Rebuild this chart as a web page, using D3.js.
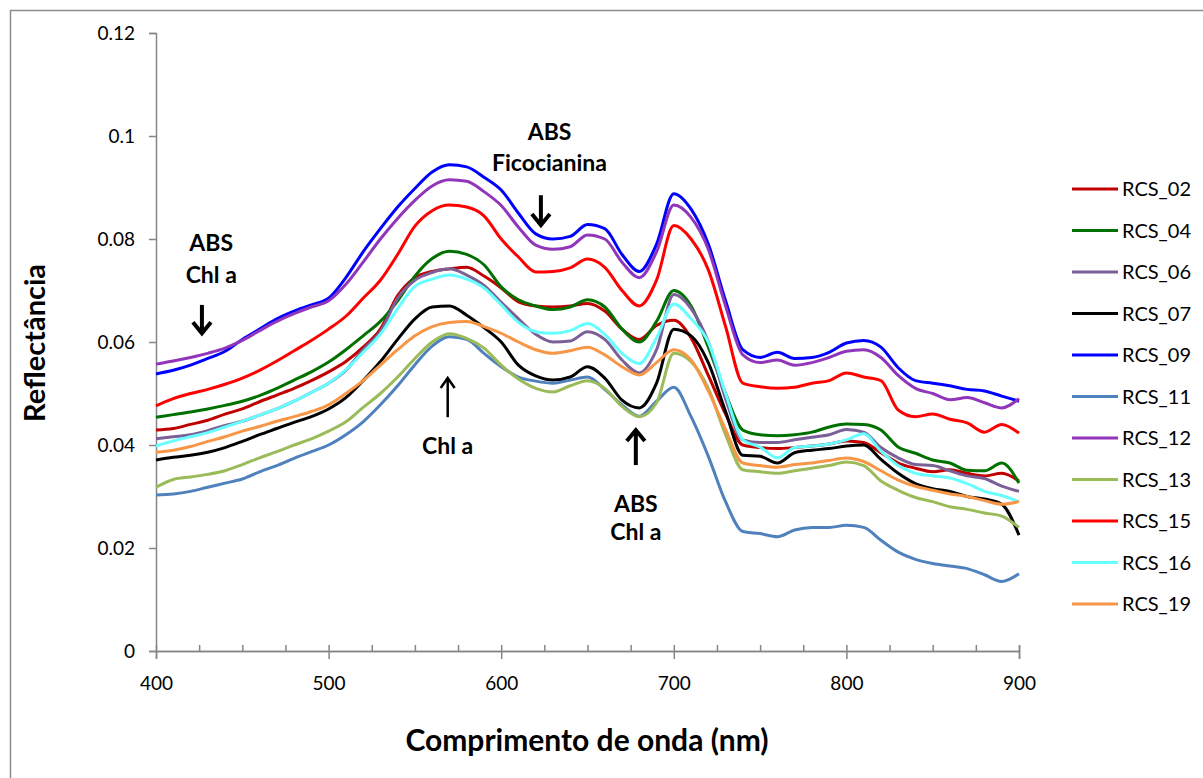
<!DOCTYPE html>
<html>
<head>
<meta charset="utf-8">
<script src="https://cdn.jsdelivr.net/npm/d3@7"></script>
<style>
  body { margin: 0; background: #fff; }
  svg { display: block; font-family: Lato, "Liberation Sans", sans-serif; }
</style>
</head>
<body>
<div id="graph1"></div>
<script>
// wavelengths (nm), one value every 10 nm
let wavelengths = [400,410,420,430,440,450,460,470,480,490,
                   500,510,520,530,540,550,560,570,580,590,
                   600,610,620,630,640,650,660,670,680,690,
                   700,710,720,730,740,750,760,770,780,790,
                   800,810,820,830,840,850,860,870,880,890,900];

let seriesNames = ["RCS_02","RCS_04","RCS_06","RCS_07","RCS_09","RCS_11",
                   "RCS_12","RCS_13","RCS_15","RCS_16","RCS_19"];
let seriesColors = ["#C00000","#007000","#7B5F97","#000000","#0000FF","#4F81BD",
                    "#9136BA","#9BBB59","#FF0000","#66FFFF","#F79646"];

let rcs02 = [.0429,.0432,.0440,.0448,.0460,.0470,.0484,.0497,.0510,.0525,
             .0542,.0562,.0590,.0625,.0690,.0725,.0737,.0742,.0745,.0728,
             .0705,.0678,.0670,.0668,.0670,.0675,.0660,.0625,.0605,.0632,
             .0642,.0608,.0535,.0460,.0400,.0395,.0393,.0395,.0398,.0402,
             .0408,.0405,.0385,.0365,.0355,.0348,.0352,.0345,.0340,.0345,.0330];
let rcs04 = [.0454,.0459,.0464,.0470,.0477,.0485,.0496,.0510,.0526,.0542,
             .0561,.0585,.0612,.0640,.0680,.0728,.0762,.0776,.0770,.0750,
             .0707,.0682,.0670,.0663,.0668,.0682,.0668,.0625,.0600,.0640,
             .0700,.0670,.0590,.0500,.0429,.0420,.0418,.0420,.0425,.0435,
             .0441,.0440,.0429,.0396,.0384,.0371,.0365,.0351,.0350,.0365,.0326];
let rcs06 = [.0412,.0416,.0420,.0428,.0438,.0446,.0458,.0470,.0485,.0502,
             .0520,.0545,.0585,.0620,.0685,.0720,.0735,.0742,.0730,.0710,
             .0677,.0645,.0615,.0600,.0602,.0620,.0605,.0565,.0540,.0585,
             .0692,.0665,.0600,.0490,.0410,.0405,.0405,.0410,.0415,.0420,
             .0430,.0425,.0395,.0375,.0362,.0360,.0350,.0340,.0335,.0320,.0310];
let rcs07 = [.0371,.0376,.0380,.0386,.0395,.0407,.0420,.0432,.0444,.0455,
             .0470,.0492,.0525,.0562,.0605,.0645,.0668,.0670,.0652,.0628,
             .0600,.0555,.0534,.0526,.0532,.0552,.0530,.0487,.0472,.0520,
             .0625,.0612,.0560,.0465,.0380,.0378,.0365,.0385,.0390,.0393,
             .0398,.0400,.0372,.0345,.0325,.0315,.0310,.0300,.0295,.0285,.0225];
let rcs09 = [.0538,.0545,.0555,.0568,.0582,.0605,.0625,.0645,.0660,.0672,
             .0685,.0725,.0775,.0820,.0862,.0898,.0930,.0944,.0940,.0920,
             .0895,.0850,.0810,.0800,.0805,.0828,.0820,.0770,.0737,.0790,
             .0888,.0858,.0790,.0680,.0585,.0570,.0580,.0568,.0570,.0580,
             .0598,.0603,.0590,.0550,.0525,.0520,.0515,.0508,.0505,.0495,.0485];
let rcs11 = [.0303,.0305,.0310,.0318,.0326,.0334,.0348,.0360,.0374,.0387,
             .0400,.0420,.0445,.0478,.0515,.0556,.0592,.0610,.0605,.0578,
             .0552,.0532,.0524,.0520,.0526,.0532,.0508,.0478,.0456,.0485,
             .0512,.0455,.0378,.0290,.0232,.0228,.0222,.0235,.0240,.0240,
             .0244,.0240,.0215,.0192,.0178,.0170,.0165,.0160,.0148,.0135,.0150];
let rcs12 = [.0557,.0563,.0570,.0578,.0588,.0603,.0622,.0640,.0655,.0668,
             .0680,.0712,.0755,.0800,.0840,.0875,.0903,.0915,.0912,.0892,
             .0865,.0823,.0788,.0780,.0785,.0808,.0800,.0755,.0725,.0775,
             .0866,.0842,.0780,.0670,.0575,.0560,.0565,.0555,.0560,.0570,
             .0582,.0585,.0570,.0535,.0510,.0500,.0488,.0492,.0482,.0472,.0490];
let rcs13 = [.0318,.0333,.0338,.0343,.0350,.0362,.0375,.0387,.0400,.0412,
             .0427,.0445,.0473,.0500,.0532,.0568,.0600,.0616,.0607,.0588,
             .0555,.0528,.0510,.0503,.0515,.0525,.0510,.0475,.0455,.0482,
             .0578,.0562,.0510,.0420,.0352,.0348,.0345,.0350,.0355,.0360,
             .0367,.0360,.0330,.0312,.0298,.0290,.0280,.0275,.0268,.0262,.0240];
let rcs15 = [.0476,.0490,.0500,.0508,.0518,.0530,.0545,.0563,.0583,.0603,
             .0625,.0650,.0685,.0720,.0770,.0825,.0855,.0866,.0862,.0845,
             .0800,.0765,.0736,.0737,.0744,.0761,.0745,.0700,.0670,.0720,
             .0826,.0800,.0740,.0630,.0520,.0513,.0510,.0512,.0520,.0525,
             .0540,.0532,.0525,.0468,.0455,.0460,.0450,.0443,.0425,.0440,.0423];
let rcs16 = [.0398,.0408,.0416,.0424,.0435,.0446,.0458,.0470,.0485,.0502,
             .0520,.0546,.0580,.0615,.0665,.0708,.0722,.0730,.0722,.0705,
             .0672,.0638,.0620,.0617,.0622,.0636,.0615,.0578,.0558,.0608,
             .0674,.0645,.0600,.0500,.0410,.0396,.0375,.0395,.0398,.0402,
             .0410,.0422,.0388,.0360,.0345,.0340,.0336,.0325,.0310,.0302,.0290];
let rcs19 = [.0386,.0390,.0397,.0407,.0416,.0427,.0436,.0446,.0455,.0465,
             .0478,.0500,.0525,.0555,.0585,.0612,.0630,.0638,.0640,.0630,
             .0617,.0600,.0585,.0578,.0583,.0590,.0575,.0552,.0536,.0560,
             .0585,.0565,.0505,.0430,.0365,.0360,.0357,.0362,.0365,.0370,
             .0375,.0368,.0350,.0332,.0320,.0312,.0305,.0300,.0292,.0285,.0290];

let seriesValues = [rcs02, rcs04, rcs06, rcs07, rcs09, rcs11,
                    rcs12, rcs13, rcs15, rcs16, rcs19];

let xTicks = [400, 500, 600, 700, 800, 900];
let yTicks = [0, 0.02, 0.04, 0.06, 0.08, 0.1, 0.12];
let yTickLabels = ["0", "0.02", "0.04", "0.06", "0.08", "0.1", "0.12"];

// annotation labels: [nm, reflectance] anchors
let notes = [
  {lines: ["ABS", "Chl a"], x: 432, y: [0.0777, 0.0714]},
  {lines: ["ABS", "Ficocianina"], x: 628, y: [0.0992, 0.0932]},
  {lines: ["Chl  a"], x: 569, y: [0.0383]},
  {lines: ["ABS", "Chl a"], x: 678, y: [0.0270, 0.0216]}
];
let arrows = [
  {x: 426.6, y1: 0.0672, y2: 0.0617, dir: "down", w: 4},
  {x: 623, y1: 0.0885, y2: 0.0827, dir: "down", w: 4},
  {x: 569, y1: 0.0454, y2: 0.0530, dir: "up", w: 2.5},
  {x: 678, y1: 0.0361, y2: 0.0429, dir: "up", w: 4}
];

let width = 1203,
    height = 778;

let svg = d3.select("#graph1")
    .append("svg")
    .attr("width", width)
    .attr("height", height);

// outer chart frame
svg.append("rect")
    .attr("x", 10.5).attr("y", 10.5)
    .attr("width", 1210).attr("height", 790)
    .attr("fill", "none")
    .attr("stroke", "#8c8c8c")
    .attr("stroke-width", 1.5);

let x = d3.scaleLinear().domain([400, 900]).range([156, 1019]);
let y = d3.scaleLinear().domain([0, 0.12]).range([651, 33]);

// y axis
let yAxis = svg.append("g")
    .attr("transform", "translate(156,0)")
    .call(d3.axisLeft(y).tickValues(yTicks).tickSize(7).tickPadding(14)
        .tickFormat((d, i) => yTickLabels[i]));

// x axis: major ticks cross the line, minor ones point inward
let xAxis = svg.append("g")
    .attr("transform", "translate(0,651)")
    .call(d3.axisBottom(x).tickValues(xTicks).tickSize(8).tickPadding(18)
        .tickFormat(d3.format("d")));
let xMinor = svg.append("g")
    .attr("transform", "translate(0,651)")
    .call(d3.axisTop(x).tickValues(d3.range(425, 901, 25)).tickSize(6).tickFormat(""));

[yAxis, xAxis, xMinor].forEach(function(g) {
  g.select(".domain").attr("stroke", "#868686").attr("stroke-width", 1.5);
  g.selectAll(".tick line").attr("stroke", "#868686").attr("stroke-width", 1.5);
  g.selectAll("text").attr("fill", "#000").style("font-size", "19px")
      .style("font-family", "Lato, 'Liberation Sans', sans-serif");
});

// axis titles
svg.append("text")
    .attr("x", 587).attr("y", 751)
    .style("text-anchor", "middle")
    .style("font-weight", "bold")
    .style("font-size", "30px")
    .text("Comprimento de onda (nm)");

svg.append("text")
    .attr("transform", "translate(45,343) rotate(-90)")
    .style("text-anchor", "middle")
    .style("font-weight", "bold")
    .style("font-size", "29px")
    .text("Reflectância");

// spectra
let line = d3.line()
    .x((d, i) => x(wavelengths[i]))
    .y(d => y(d))
    .curve(d3.curveMonotoneX);

svg.append("g").selectAll("path")
    .data(seriesValues)
    .enter()
    .append("path")
    .attr("d", d => line(d))
    .attr("fill", "none")
    .attr("stroke", (d, i) => seriesColors[i])
    .attr("stroke-width", 3)
    .attr("stroke-linejoin", "round");

// annotations
let noteG = svg.append("g");
notes.forEach(function(n) {
  n.lines.forEach(function(t, k) {
    noteG.append("text")
        .attr("x", x(n.x))
        .attr("y", y(n.y[k]))
        .style("text-anchor", "middle")
        .style("font-weight", "bold")
        .style("font-size", "23px")
        .text(t);
  });
});

arrows.forEach(function(a) {
  let ax = x(a.x), tip = y(a.y2), tail = y(a.y1);
  let s = a.dir == "down" ? -1 : 1;
  let hw = a.w > 3 ? 9 : 7, hh = a.w > 3 ? 11 : 10;
  noteG.append("path")
      .attr("d", "M" + ax + "," + tail + "L" + ax + "," + tip)
      .attr("stroke", "#000").attr("stroke-width", a.w);
  noteG.append("path")
      .attr("d", "M" + (ax - hw) + "," + (tip - s * -hh) + "L" + ax + "," + tip +
                 "L" + (ax + hw) + "," + (tip - s * -hh))
      .attr("fill", "none")
      .attr("stroke", "#000").attr("stroke-width", a.w)
      .attr("stroke-linejoin", "miter");
});

// legend
let legend = svg.append("g");
seriesNames.forEach(function(name, i) {
  let ly = 189 + i * 41.5;
  legend.append("line")
      .attr("x1", 1072).attr("x2", 1118)
      .attr("y1", ly).attr("y2", ly)
      .attr("stroke", seriesColors[i])
      .attr("stroke-width", 3);
  legend.append("text")
      .attr("x", 1122).attr("y", ly + 7)
      .style("font-size", "20px")
      .text(name);
});
</script>
</body>
</html>
